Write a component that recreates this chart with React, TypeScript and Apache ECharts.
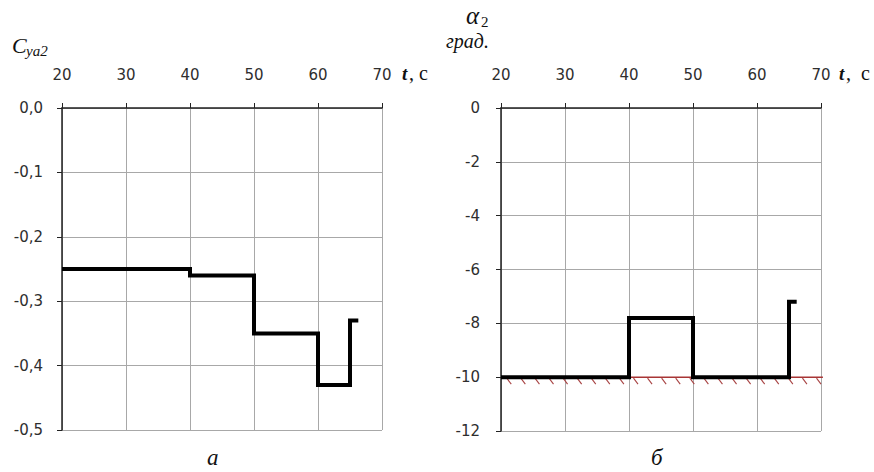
import React, { useEffect, useRef } from "react";
import * as echarts from "echarts";

// Panel а: C_ya2 vs t
const leftBreaks = [20, 40, 50, 60, 65, 66.3];
const leftLevels = [-0.25, -0.26, -0.35, -0.43, -0.33];
// Panel б: alpha_2 vs t
const rightBreaks = [20, 40, 50, 65, 66.2];
const rightLevels = [-10, -7.8, -10, -7.2];
// limit line at -10 with hatching
const limitValue = -10;
const limitRange = [20, 70.3];
const hatchT = [20.9, 23.1, 25.3, 27.5, 29.7, 31.9, 34.1, 36.3, 38.5, 40.7, 42.9, 45.1, 47.3, 49.5, 51.7, 53.9, 56.1, 58.3, 60.5, 62.7, 64.9, 67.1, 69.3];
const tTicks = [20, 30, 40, 50, 60, 70];

function stepPoints(breaks: number[], levels: number[]) {
  const pts: number[][] = [];
  for (let i = 0; i < levels.length; i++) {
    pts.push([breaks[i], levels[i]]);
    pts.push([breaks[i + 1], levels[i]]);
  }
  return pts;
}

const tickFont = { fontFamily: "DejaVu Sans", fontSize: 15, color: "#2e2e2e" };
const serif = "Liberation Serif";

function xAxisCfg(gridIndex: number) {
  return {
    type: "value" as const,
    gridIndex,
    position: "top" as const,
    min: tTicks[0],
    max: tTicks[tTicks.length - 1],
    interval: 10,
    axisLine: { show: true, onZero: false, lineStyle: { color: "#222", width: 1.5 } },
    axisTick: { show: true, inside: false, length: 5, lineStyle: { color: "#222" } },
    axisLabel: { ...tickFont, margin: 26 },
    splitLine: { show: true, lineStyle: { color: "#a8a8a8", width: 1 } },
  };
}

function yAxisCfg(gridIndex: number, min: number, max: number, interval: number, fmt: (v: number) => string, margin: number) {
  return {
    type: "value" as const,
    gridIndex,
    min,
    max,
    interval,
    axisLine: { show: true, onZero: false, lineStyle: { color: "#222", width: 1.5 } },
    axisTick: { show: true, inside: false, length: 5, lineStyle: { color: "#222" } },
    axisLabel: { ...tickFont, margin, formatter: fmt },
    splitLine: { show: true, lineStyle: { color: "#a8a8a8", width: 1 } },
  };
}

export default function App() {
  const ref = useRef<HTMLDivElement>(null);
  useEffect(() => {
    if (!ref.current) return;
    const chart = echarts.init(ref.current, undefined, { renderer: "svg" });
    const option: any = {
      animation: false,
      backgroundColor: "#ffffff",
      grid: [
        { left: 62, top: 108, width: 320, height: 322 },
        { left: 501, top: 108, width: 320, height: 323 },
      ],
      xAxis: [xAxisCfg(0), xAxisCfg(1)],
      yAxis: [
        yAxisCfg(0, -0.5, 0, 0.1, (v: number) => v.toFixed(1).replace(".", ","), 19),
        yAxisCfg(1, -12, 0, 2, (v: number) => String(v), 21),
      ],
      series: [
        {
          type: "line",
          xAxisIndex: 0,
          yAxisIndex: 0,
          data: stepPoints(leftBreaks, leftLevels),
          symbol: "none",
          lineStyle: { color: "#000", width: 4, cap: "butt", join: "miter" },
          z: 5,
        },
        {
          type: "line",
          xAxisIndex: 1,
          yAxisIndex: 1,
          data: [[limitRange[0], limitValue], [limitRange[1], limitValue]],
          symbol: "none",
          clip: false,
          lineStyle: { color: "#a83535", width: 1.5 },
          z: 3,
        },
        {
          type: "custom",
          xAxisIndex: 1,
          yAxisIndex: 1,
          coordinateSystem: "cartesian2d",
          clip: false,
          data: hatchT.map((t) => [t, limitValue]),
          renderItem: (params: any, api: any) => {
            const p = api.coord([api.value(0), api.value(1)]);
            return {
              type: "line",
              shape: { x1: p[0], y1: p[1] + 1, x2: p[0] + 4.5, y2: p[1] + 7 },
              style: { stroke: "#a84444", lineWidth: 1.1 },
            };
          },
          z: 3,
        },
        {
          type: "line",
          xAxisIndex: 1,
          yAxisIndex: 1,
          data: stepPoints(rightBreaks, rightLevels),
          symbol: "none",
          lineStyle: { color: "#000", width: 4, cap: "butt", join: "miter" },
          z: 5,
        },
      ],
      graphic: [
        { type: "text", left: 12, top: 34, style: { text: "C", font: `italic 22px "${serif}"`, fill: "#111" } },
        { type: "text", left: 26, top: 43, style: { text: "ya2", font: `italic 15px "${serif}"`, fill: "#111" } },
        { type: "text", left: 466, top: 3, style: { text: "α", font: `italic 25px "${serif}"`, fill: "#111" } },
        { type: "text", left: 481, top: 14, style: { text: "2", font: `15px "${serif}"`, fill: "#111" } },
        { type: "text", left: 446, top: 31, style: { text: "град.", font: `italic 20px "${serif}"`, fill: "#111" } },
        { type: "text", left: 402, top: 64, style: { text: "t", font: `italic bold 19px "${serif}"`, fill: "#111" } },
        { type: "text", left: 409, top: 63, style: { text: ", с", font: `20px "${serif}"`, fill: "#111" } },
        { type: "text", left: 839, top: 64, style: { text: "t", font: `italic bold 19px "${serif}"`, fill: "#111" } },
        { type: "text", left: 846, top: 63, style: { text: ",  с", font: `20px "${serif}"`, fill: "#111" } },
        { type: "text", left: 207, top: 446, style: { text: "а", font: `italic 23px "${serif}"`, fill: "#111" } },
        { type: "text", left: 651, top: 446, style: { text: "б", font: `italic 23px "${serif}"`, fill: "#111" } },
      ],
    };
    chart.setOption(option);
    return () => chart.dispose();
  }, []);
  return (
    <div
      ref={ref}
      style={{ position: "fixed", left: 0, top: 0, width: 874, height: 472, background: "#fff" }}
    />
  );
}
